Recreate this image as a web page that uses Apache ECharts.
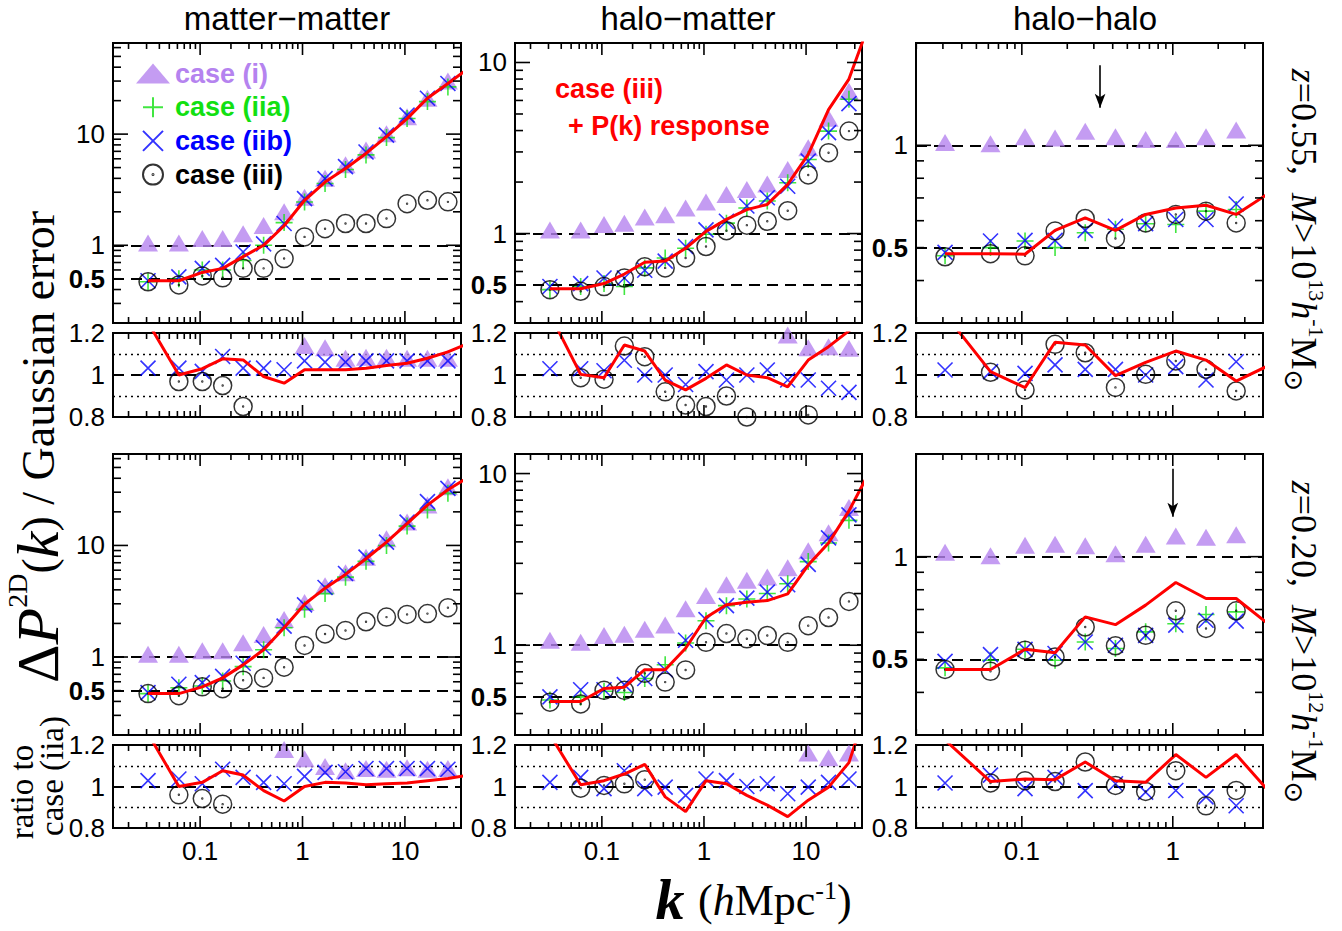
<!DOCTYPE html>
<html>
<head>
<meta charset="utf-8">
<script src="https://cdn.jsdelivr.net/npm/echarts/dist/echarts.min.js"></script>
<style>
html,body{margin:0;padding:0;background:#fff}
#chart{width:1342px;height:931px}
</style>
</head>
<body>
<div id="chart"></div>
<script>
// wavenumber bins (h/Mpc); the last bin only extends the response curve past the axis edge
const kBins = [0.031, 0.062, 0.105, 0.166, 0.263, 0.417, 0.661, 1.047, 1.66, 2.63, 4.17, 6.61, 10.5, 16.6, 26.3, 41.7];

// ---- Delta P / Gaussian error, z = 0.55, M > 1e13 ----
const mm55_i    = [1.05, 1.05, 1.15, 1.15, 1.27, 1.51, 2.0, 2.7, 4.0, 5.3, 7.2, 10.1, 14.3, 21, 30];
const mm55_iia  = [0.47, 0.50, 0.60, 0.60, 0.73, 1.0, 1.60, 2.45, 3.6, 4.8, 6.5, 9.3, 13.8, 19.6, 26.6];
const mm55_iib  = [0.48, 0.52, 0.62, 0.66, 0.87, 1.03, 1.57, 2.63, 3.98, 5.1, 6.9, 9.8, 14.8, 21, 28.5];
const mm55_iii  = [0.47, 0.44, 0.53, 0.51, 0.62, 0.62, 0.76, 1.19, 1.41, 1.57, 1.57, 1.74, 2.37, 2.54, 2.46];
const mm55_resp = [0.48, 0.48, 0.57, 0.62, 0.79, 1.0, 1.5, 2.54, 3.7, 4.9, 6.7, 9.5, 13.8, 21, 28.5, 39];

const hm55_i    = [1.05, 1.05, 1.13, 1.15, 1.25, 1.29, 1.41, 1.53, 1.69, 1.81, 1.95, 2.37, 3.17, 4.72, 6.8];
const hm55_iia  = [0.47, 0.49, 0.51, 0.49, 0.63, 0.72, 0.82, 0.99, 1.15, 1.41, 1.55, 1.98, 2.71, 3.97, 6.1];
const hm55_iib  = [0.49, 0.51, 0.55, 0.55, 0.61, 0.69, 0.84, 1.05, 1.18, 1.45, 1.62, 1.89, 2.65, 3.89, 5.75];
const hm55_iii  = [0.47, 0.46, 0.49, 0.55, 0.64, 0.63, 0.72, 0.84, 1.04, 1.12, 1.18, 1.36, 2.2, 2.97, 3.97];
const hm55_resp = [0.476, 0.476, 0.51, 0.58, 0.68, 0.69, 0.82, 1.03, 1.21, 1.38, 1.48, 1.94, 2.9, 5.3, 8.0, 17];

const hh55_i    = [1.02, 1.01, 1.06, 1.05, 1.10, 1.06, 1.04, 1.04, 1.06, 1.11];
const hh55_iia  = [0.473, 0.50, 0.523, 0.50, 0.553, 0.566, 0.588, 0.585, 0.64, 0.647];
const hh55_iib  = [0.484, 0.523, 0.525, 0.525, 0.562, 0.578, 0.588, 0.605, 0.605, 0.672];
const hh55_iii  = [0.47, 0.48, 0.473, 0.56, 0.609, 0.532, 0.591, 0.626, 0.64, 0.591];
const hh55_resp = [0.48, 0.48, 0.478, 0.562, 0.612, 0.562, 0.626, 0.654, 0.666, 0.626, 0.715];

// ---- Delta P / Gaussian error, z = 0.20, M > 1e12 ----
const mm20_i    = [1.06, 1.06, 1.14, 1.14, 1.34, 1.59, 2.17, 3.08, 4.35, 5.7, 7.85, 11.5, 16.2, 23, 33.6];
const mm20_iia  = [0.47, 0.53, 0.55, 0.61, 0.82, 1.16, 1.83, 2.68, 3.7, 5.2, 7.2, 10.0, 14.9, 20.8, 29.3];
const mm20_iib  = [0.48, 0.57, 0.59, 0.67, 0.88, 1.21, 1.89, 2.93, 4.2, 5.6, 7.85, 10.7, 16.2, 24.7, 32.5];
const mm20_iii  = [0.47, 0.45, 0.54, 0.52, 0.62, 0.65, 0.81, 1.27, 1.61, 1.73, 2.07, 2.28, 2.41, 2.45, 2.77];
const mm20_resp = [0.47, 0.47, 0.54, 0.65, 0.85, 1.16, 1.83, 2.97, 4.14, 5.5, 7.6, 10.7, 15.7, 23, 31.6, 41];

const hm20_i    = [1.07, 1.04, 1.14, 1.16, 1.24, 1.31, 1.63, 1.95, 2.25, 2.39, 2.5, 2.83, 3.55, 4.52, 6.35];
const hm20_iia  = [0.48, 0.50, 0.54, 0.53, 0.64, 0.77, 1.03, 1.39, 1.70, 1.86, 2.0, 2.28, 3.07, 3.94, 5.34];
const hm20_iib  = [0.50, 0.55, 0.55, 0.59, 0.64, 0.72, 1.07, 1.41, 1.70, 1.88, 2.04, 2.25, 2.96, 4.22, 5.75];
const hm20_iii  = [0.466, 0.455, 0.546, 0.546, 0.686, 0.61, 0.718, 1.04, 1.17, 1.09, 1.14, 1.04, 1.30, 1.45, 1.80];
const hm20_resp = [0.47, 0.47, 0.56, 0.57, 0.72, 0.72, 0.96, 1.45, 1.72, 1.78, 1.82, 1.99, 2.93, 3.94, 6.06, 10.2];

const hh20_i    = [1.03, 1.007, 1.08, 1.087, 1.077, 1.02, 1.087, 1.15, 1.14, 1.16];
const hh20_iia  = [0.472, 0.497, 0.535, 0.497, 0.562, 0.538, 0.602, 0.636, 0.677, 0.689];
const hh20_iib  = [0.493, 0.516, 0.535, 0.52, 0.562, 0.55, 0.588, 0.63, 0.651, 0.647];
const hh20_iii  = [0.467, 0.461, 0.532, 0.508, 0.622, 0.548, 0.588, 0.694, 0.616, 0.694];
const hh20_resp = [0.467, 0.467, 0.535, 0.523, 0.666, 0.632, 0.721, 0.84, 0.754, 0.754, 0.641];

// ---- ratio to case (iia); null = outside the 0.8-1.2 window ----
const mm55r_i    = [null, null, null, null, null, null, null, 1.14, 1.13, 1.08, 1.085, 1.085, 1.08, 1.08, 1.08];
const mm55r_iib  = [1.033, 1.033, 1.017, 1.088, 1.033, 1.033, 1.025, 1.067, 1.061, 1.061, 1.067, 1.067, 1.067, 1.067, 1.067];
const mm55r_iii  = [null, 0.969, 0.969, 0.95, 0.85, null, null, null, null, null, null, null, null, null, null];
const mm55r_resp = [1.25, 1.0, 1.03, 1.077, 1.072, 0.993, 0.961, 1.025, 1.025, 1.025, 1.032, 1.045, 1.056, 1.08, 1.11, 1.15];

const hm55r_i    = [null, null, null, null, null, null, null, null, null, null, null, 1.19, 1.13, 1.135, 1.127];
const hm55r_iib  = [1.03, 1.03, 1.02, 1.07, 1.0, 1.0, 0.955, 1.016, 0.976, 1.0, 1.024, 0.976, 0.976, 0.937, 0.917];
const hm55r_iii  = [null, 0.987, 0.98, 1.138, 1.087, 0.92, 0.857, 0.85, 0.90, 0.80, null, null, 0.81, null, null];
const hm55r_resp = [1.29, 1.003, 0.987, 1.143, 1.114, 0.976, 0.929, 0.984, 1.048, 1.0, 0.987, 0.944, 1.071, 1.135, 1.21, 1.32];

const hh55r_i    = [null, null, null, null, null, null, null, null, null, null];
const hh55r_iib  = [1.024, 1.016, 1.008, 1.048, 1.027, 1.027, 1.0, 1.04, 0.976, 1.063];
const hh55r_iii  = [null, 1.013, 0.929, 1.146, 1.106, 0.941, 1.003, 1.067, 1.027, 0.924];
const hh55r_resp = [1.29, 1.016, 0.94, 1.156, 1.143, 0.997, 1.06, 1.114, 1.071, 0.971, 1.04];

const mm20r_i    = [null, null, null, null, null, null, 1.178, 1.134, 1.096, 1.076, 1.087, 1.083, 1.09, 1.083, 1.087];
const mm20r_iib  = [1.028, 1.036, 1.013, 1.083, 1.044, 1.02, 1.013, 1.049, 1.068, 1.071, 1.087, 1.087, 1.087, 1.087, 1.083];
const mm20r_iii  = [null, 0.96, 0.942, 0.915, null, null, null, null, null, null, null, null, null, null, null];
const mm20r_resp = [1.255, 1.0, 1.02, 1.076, 1.055, 0.98, 0.93, 1.0, 1.02, 1.017, 1.008, 1.013, 1.017, 1.028, 1.039, 1.055];

const hm20r_i    = [null, null, null, null, null, null, null, null, null, null, null, null, 1.162, 1.139, 1.162];
const hm20r_iib  = [1.02, 1.044, 0.99, 1.076, 0.99, 0.997, 0.957, 1.036, 1.028, 1.0, 1.013, 0.965, 0.997, 1.02, 1.036];
const hm20r_iii  = [null, 0.992, 1.005, 1.013, 1.033, null, null, null, null, null, null, null, null, null, null];
const hm20r_resp = [1.25, 1.008, 1.028, 1.06, 1.107, 0.95, 0.879, 1.028, 1.013, 0.957, 0.91, 0.855, 0.934, 0.997, 1.115, 1.42];

const hh20r_i    = [null, null, null, null, null, null, null, null, null, null];
const hh20r_iib  = [1.017, 1.055, 0.99, 1.044, 0.98, 1.013, 0.973, 0.981, 0.95, 0.907];
const hh20r_iii  = [null, 1.017, 1.028, 1.024, 1.118, 1.005, 0.976, 1.076, 0.907, 0.981];
const hh20r_resp = [1.224, 1.024, 1.036, 1.033, 1.118, 1.028, 1.02, 1.154, 1.044, 1.154, 0.99];

// arrows in the halo-halo panels (k position, tail, tip)
const arrowK    = [0.33, 1.0];
const arrowTail = [1.72, 1.81];
const arrowTip  = [1.29, 1.31];

// axis tick labels
const xLabelsWide   = [0.1, 1, 10];
const xLabelsNarrow = [0.1, 1];
const yLabelsWide   = [0.5, 1, 10];
const yLabelsNarrow = [0.5, 1];

// ---------------- layout & style ----------------
const PURPLE = '#b583ef', GREEN = '#12e012', BLUE = '#0000ff', RED = '#ff0000';
const SANS = '"Liberation Sans", Arial, Helvetica, sans-serif';
const SERIF = '"Liberation Serif", "Times New Roman", serif';

const COL_LEFT = [113, 515, 916];
const COL_W = [348, 347, 347];
const MAIN_TOP = [43, 454], MAIN_H = [280, 281];
const RAT_TOP = [333, 745], RAT_H = [84, 83];
const X_RANGE = [[0.0141, 35.3], [0.0141, 35.3], [0.0199, 3.96]];
const Y_RANGE = [[0.2, 66], [0.3, 13], [0.3, 2.0]];

const decades = [0.01, 0.1, 1, 10];
const MAJOR = [0.1, 1, 10];
const MINOR = decades.flatMap(d => [2, 3, 4, 5, 6, 7, 8, 9].map(m => +(m * d).toPrecision(3)));
const TICK_LEN = { xMajor: 12, xMinor: 6, yMajor: 15, yMinor: 8 };
const TICK_W = 1.6;

const CIRCLE_DOT = 'path://M10,0A10,10,0,1,1,10,20A10,10,0,1,1,10,0ZM10,9.5A0.5,0.5,0,1,1,10,10.5A0.5,0.5,0,1,1,10,9.5Z';
const MARKS = {
  i:   { name: 'case (i)',   symbol: 'triangle', symbolSize: [20, 17], itemStyle: { color: PURPLE } },
  iia: { name: 'case (iia)', symbol: 'path://M10,0L10,20M0,10L20,10', symbolSize: 17, itemStyle: { color: 'transparent', borderColor: GREEN, borderWidth: 1.6 } },
  iib: { name: 'case (iib)', symbol: 'path://M0,0L20,20M0,20L20,0', symbolSize: 15, itemStyle: { color: 'transparent', borderColor: BLUE, borderWidth: 1.6 } },
  iii: { name: 'case (iii)', symbol: CIRCLE_DOT, symbolSize: 18, itemStyle: { color: 'transparent', borderColor: '#000', borderWidth: 1.5 } }
};

const panels = [
  { row: 0, col: 0, i: mm55_i, iia: mm55_iia, iib: mm55_iib, iii: mm55_iii, resp: mm55_resp,
    r: { i: mm55r_i, iib: mm55r_iib, iii: mm55r_iii, resp: mm55r_resp } },
  { row: 0, col: 1, i: hm55_i, iia: hm55_iia, iib: hm55_iib, iii: hm55_iii, resp: hm55_resp,
    r: { i: hm55r_i, iib: hm55r_iib, iii: hm55r_iii, resp: hm55r_resp } },
  { row: 0, col: 2, i: hh55_i, iia: hh55_iia, iib: hh55_iib, iii: hh55_iii, resp: hh55_resp,
    r: { i: hh55r_i, iib: hh55r_iib, iii: hh55r_iii, resp: hh55r_resp }, arrow: 0 },
  { row: 1, col: 0, i: mm20_i, iia: mm20_iia, iib: mm20_iib, iii: mm20_iii, resp: mm20_resp,
    r: { i: mm20r_i, iib: mm20r_iib, iii: mm20r_iii, resp: mm20r_resp } },
  { row: 1, col: 1, i: hm20_i, iia: hm20_iia, iib: hm20_iib, iii: hm20_iii, resp: hm20_resp,
    r: { i: hm20r_i, iib: hm20r_iib, iii: hm20r_iii, resp: hm20r_resp } },
  { row: 1, col: 2, i: hh20_i, iia: hh20_iia, iib: hh20_iib, iii: hh20_iii, resp: hh20_resp,
    r: { i: hh20r_i, iib: hh20r_iib, iii: hh20r_iii, resp: hh20r_resp }, arrow: 1 }
];

function pts(arr) {
  const out = [];
  arr.forEach((v, i) => { if (v != null) out.push([kBins[i], v]); });
  return out;
}

function fmtNum(v) {
  const r = parseFloat(Number(v).toPrecision(3));
  return Math.abs(r - 0.5) < 1e-9 ? '{b|0.5}' : String(r);
}

const grid = [], xAxis = [], yAxis = [], series = [], frames = [];
const labelFont = { fontFamily: SANS, fontSize: 26, color: '#000' };
const BARE = { axisLine: { show: false, onZero: false }, axisTick: { show: false }, splitLine: { show: false },
  minorTick: { show: false }, minorSplitLine: { show: false } };

function addPanel(p, isRatio) {
  const gi = grid.length;
  const col = p.col, row = p.row;
  const w = COL_W[col], h = isRatio ? RAT_H[row] : MAIN_H[row];
  const left = COL_LEFT[col], top = isRatio ? RAT_TOP[row] : MAIN_TOP[row];
  grid.push({
    left, width: w, top, height: h,
    show: true, borderColor: '#000', borderWidth: 2, backgroundColor: 'transparent',
    containLabel: false, outerBoundsMode: 'none'
  });
  const xr = X_RANGE[col];
  const yr = isRatio ? [0.8, 1.2] : Y_RANGE[col];
  frames.push({ gi, left, top, w, h, xr, yr, logY: !isRatio, withY: !isRatio });

  const showX = isRatio && row === 1;
  xAxis.push(Object.assign({ type: 'log', logBase: 10, gridIndex: gi, min: xr[0], max: xr[1],
    axisLabel: showX ? Object.assign({ show: true, margin: 10,
      customValues: col === 2 ? xLabelsNarrow : xLabelsWide, formatter: fmtNum }, labelFont) : { show: false } }, BARE));

  if (isRatio) {
    yAxis.push(Object.assign({ type: 'value', gridIndex: gi, min: 0.8, max: 1.2, interval: 0.2,
      axisLabel: Object.assign({ margin: 8, formatter: v => String(Math.round(v * 10) / 10) }, labelFont) }, BARE));
  } else {
    yAxis.push(Object.assign({ type: 'log', logBase: 10, gridIndex: gi, min: yr[0], max: yr[1],
      axisLabel: Object.assign({ show: true, margin: 8, customValues: col === 2 ? yLabelsNarrow : yLabelsWide,
        formatter: fmtNum, rich: { b: { fontFamily: SANS, fontSize: 26, fontWeight: 'bold', color: '#000' } } }, labelFont) }, BARE));
  }
  const ax = { xAxisIndex: gi, yAxisIndex: gi };
  const src = isRatio ? p.r : p;

  // reference lines and the arrow in the halo-halo panels
  const refLines = isRatio
    ? [{ yAxis: 1 },
       { yAxis: 0.9, lineStyle: { type: [2, 4], width: 1.4 } },
       { yAxis: 1.1, lineStyle: { type: [2, 4], width: 1.4 } }]
    : [{ yAxis: 1 }, { yAxis: 0.5 }];
  if (!isRatio && p.arrow != null) {
    const a = p.arrow;
    refLines.push([
      { coord: [arrowK[a], arrowTail[a]], symbol: 'none', lineStyle: { type: 'solid', width: 1.6 } },
      { coord: [arrowK[a], arrowTip[a]], symbol: 'arrow', symbolSize: [8, 14] }
    ]);
  }
  const markLine = { silent: true, z: 1, symbol: ['none', 'none'], label: { show: false },
    animation: false, emphasis: { disabled: true },
    lineStyle: { color: '#000', width: 2.2, type: [11, 7] }, data: refLines };

  ['i', 'iia', 'iib', 'iii'].forEach(key => {
    const arr = src[key];
    if (!arr) return;
    const s = Object.assign({ type: 'scatter', data: pts(arr), z: 2, silent: true,
      emphasis: { disabled: true }, clip: true }, ax, MARKS[key]);
    if (key === 'iib') s.markLine = markLine;
    series.push(s);
  });
  series.push(Object.assign({ type: 'line', name: 'case (iii) + P(k) response', data: pts(src.resp),
    symbol: 'none', clip: true, z: 3, silent: true, emphasis: { disabled: true },
    lineStyle: { color: RED, width: 3 } }, ax));
}

panels.forEach(p => addPanel(p, false));
panels.forEach(p => addPanel(p, true));

const TXT = (x, y, text, font, extra) => Object.assign({ type: 'text', x, y, silent: true,
  style: Object.assign({ text, font, fill: '#000', align: 'center', verticalAlign: 'middle',
    textAlign: 'center', textVerticalAlign: 'middle' }, extra || {}) });

// rich-text styles for the serif math labels
const mathRich = (base, big, lh) => ({
  n: { fontFamily: SERIF, fontSize: base, fill: '#000', verticalAlign: 'middle', lineHeight: lh || big + 10 },
  i: { fontFamily: SERIF, fontSize: base, fontStyle: 'italic', fill: '#000', verticalAlign: 'middle', lineHeight: lh || big + 10 },
  I: { fontFamily: SERIF, fontSize: big, fontStyle: 'italic', fill: '#000', verticalAlign: 'middle', lineHeight: lh || big + 10 },
  N: { fontFamily: SERIF, fontSize: big, fill: '#000', verticalAlign: 'middle', lineHeight: lh || big + 10 },
  s: { fontFamily: SERIF, fontSize: Math.round(base * 0.6), fill: '#000', verticalAlign: 'top' },
  o: { fontFamily: '"DejaVu Sans", sans-serif', fontSize: Math.round(base * 0.72), fill: '#000', verticalAlign: 'bottom' }
});

const graphic = [
  TXT(287, 18, 'matter\u2212matter', '33px ' + SANS),
  TXT(688, 18, 'halo\u2212matter', '33px ' + SANS),
  TXT(1085, 18, 'halo\u2212halo', '33px ' + SANS),
  TXT(555, 89, 'case (iii)', 'bold 27px ' + SANS, { fill: RED, align: 'left', textAlign: 'left' }),
  TXT(568, 126, '+ P(k) response', 'bold 27px ' + SANS, { fill: RED, align: 'left', textAlign: 'left' }),
  Object.assign(TXT(1304, 230, '{i|z}{n|=0.55,  }{i|M}{n|>10}{s|13}{i|h}{s|-1}{n|M}{o|\u2299}', '36px ' + SERIF,
    { rich: mathRich(36, 36) }), { rotation: -Math.PI / 2 }),
  Object.assign(TXT(1304, 642, '{i|z}{n|=0.20,  }{i|M}{n|>10}{s|12}{i|h}{s|-1}{n|M}{o|\u2299}', '36px ' + SERIF,
    { rich: mathRich(36, 36) }), { rotation: -Math.PI / 2 }),
  Object.assign(TXT(38, 447, '{N|\u0394}{I|P}{s|2D}{n|(}{I|k}{n|) / Gaussian error}', '46px ' + SERIF,
    { rich: mathRich(46, 60) }), { rotation: Math.PI / 2 }),
  Object.assign(TXT(22, 792, 'ratio to', '33px ' + SERIF), { rotation: Math.PI / 2 }),
  Object.assign(TXT(52, 776, 'case (iia)', '33px ' + SERIF), { rotation: Math.PI / 2 }),
  // x-axis title: large bold italic k, then the unit
  TXT(670, 899, 'k', 'italic bold 58px ' + SERIF, { lineHeight: 58 }),
  TXT(698, 900, '{n|(}{i|h}{n|Mpc}{s|-1}{n|)}', '44px ' + SERIF, { rich: mathRich(44, 44, 46), align: 'left', textAlign: 'left' })
];

const chart = echarts.init(document.getElementById('chart'), null, { renderer: 'svg' });
chart.setOption({
  animation: false,
  backgroundColor: '#fff',
  textStyle: { fontFamily: SANS },
  grid, xAxis, yAxis, series, graphic,
  legend: {
    orient: 'vertical', left: 131, top: 55, itemWidth: 34, itemHeight: 20, itemGap: 6.7,
    selectedMode: false, inactiveColor: '#000',
    textStyle: { fontFamily: SANS, fontSize: 27, fontWeight: 'bold', lineHeight: 26 },
    data: [
      { name: 'case (i)', textStyle: { color: PURPLE } },
      { name: 'case (iia)', textStyle: { color: GREEN } },
      { name: 'case (iib)', textStyle: { color: BLUE } },
      { name: 'case (iii)', textStyle: { color: '#000' } }
    ]
  }
});

// Inward frame ticks on all four sides; each tick is placed where the panel's own
// axis scale maps its value (convertToPixel), as a thin filled bar.
try {
  const bars = [];
  const bar = (x, y, bw, bh) => ({ type: 'rect', silent: true, z: 50,
    shape: { x, y, width: bw, height: bh }, style: { fill: '#000' } });
  frames.forEach(f => {
    const inX = v => v > f.xr[0] * 1.001 && v < f.xr[1] * 0.999;
    const inY = v => v > f.yr[0] * 1.001 && v < f.yr[1] * 0.999;
    const yMid = f.logY ? Math.sqrt(f.yr[0] * f.yr[1]) : (f.yr[0] + f.yr[1]) / 2;
    const xMid = Math.sqrt(f.xr[0] * f.xr[1]);
    const bottom = f.top + f.h, right = f.left + f.w;
    const addX = (vals, len) => vals.filter(inX).forEach(v => {
      const px = chart.convertToPixel({ gridIndex: f.gi }, [v, yMid])[0];
      if (!isFinite(px)) return;
      bars.push(bar(px - TICK_W / 2, bottom - len, TICK_W, len));
      bars.push(bar(px - TICK_W / 2, f.top, TICK_W, len));
    });
    addX(MAJOR, TICK_LEN.xMajor);
    addX(MINOR, TICK_LEN.xMinor);
    if (f.withY) {
      const addY = (vals, len) => vals.filter(inY).forEach(v => {
        const py = chart.convertToPixel({ gridIndex: f.gi }, [xMid, v])[1];
        if (!isFinite(py)) return;
        bars.push(bar(f.left, py - TICK_W / 2, len, TICK_W));
        bars.push(bar(right - len, py - TICK_W / 2, len, TICK_W));
      });
      addY(MAJOR, TICK_LEN.yMajor);
      addY(MINOR, TICK_LEN.yMinor);
    }
  });
  chart.setOption({ graphic: graphic.concat(bars) });
} catch (e) {
  // frame ticks are decorative; the chart stands without them
}
</script>
</body>
</html>
